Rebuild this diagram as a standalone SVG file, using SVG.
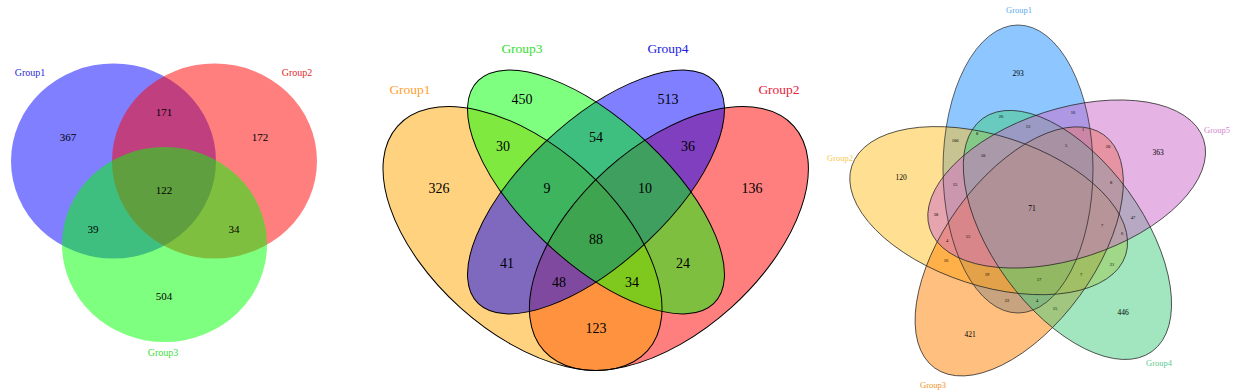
<svg xmlns="http://www.w3.org/2000/svg" width="1240" height="392" viewBox="0 0 1240 392">
<style>
text{font-family:"Liberation Serif","Times New Roman",serif;text-anchor:middle}
.n3{font-size:11px;fill:#000}
.g3{font-size:10px}
.n4{font-size:14px;fill:#000}
.g4{font-size:13.5px}
.n5{font-size:7.5px;fill:#000}
.s5{font-size:4.5px;fill:#000}
.g5{font-size:8.5px}
.f{fill-opacity:0.5;stroke:none}
.o4{fill:none;stroke:#000;stroke-width:1}
.o5{fill:none;stroke:#222;stroke-width:0.7}
</style>
<rect width="1240" height="392" fill="#fff"/>

<!-- 3-set Venn -->
<g id="venn3">
  <g id="v3-group1"><ellipse class="f" cx="113.5" cy="161" rx="102.5" ry="97.5" fill="#0000ff"/><text class="g3" x="30" y="75.5" fill="#2a2ad8">Group1</text></g>
  <g id="v3-group2"><ellipse class="f" cx="214.5" cy="161" rx="102.5" ry="97.5" fill="#ff0000"/><text class="g3" x="297" y="75.5" fill="#e02828">Group2</text></g>
  <g id="v3-group3"><ellipse class="f" cx="164.5" cy="244.5" rx="102.5" ry="97.5" fill="#00ff00"/><text class="g3" x="163" y="355.5" fill="#3cdc3c">Group3</text></g>
  <g id="v3-counts">
    <text class="n3" x="68" y="141">367</text>
    <text class="n3" x="164" y="116">171</text>
    <text class="n3" x="260" y="141">172</text>
    <text class="n3" x="164" y="194">122</text>
    <text class="n3" x="93" y="233">39</text>
    <text class="n3" x="234" y="233">34</text>
    <text class="n3" x="164" y="300">504</text>
  </g>
</g>

<!-- 4-set Venn -->
<g id="venn4">
  <g id="v4-group2"><ellipse class="f" cx="668.9" cy="238.5" rx="168" ry="93" transform="rotate(-42 668.9 238.5)" fill="#ff0000"/><text class="g4" x="779" y="94" fill="#e8203a">Group2</text></g>
  <g id="v4-group1"><ellipse class="f" cx="522.5" cy="238.5" rx="168" ry="93" transform="rotate(42 522.5 238.5)" fill="#ffa500"/><text class="g4" x="410" y="94" fill="#ffa030">Group1</text></g>
  <g id="v4-group4"><g transform="translate(596 192) scale(1 0.949)"><ellipse class="f" cx="0" cy="0" rx="166.3" ry="73.2" transform="rotate(-45)" fill="#0000ff"/></g><text class="g4" x="668" y="53" fill="#2020e0">Group4</text></g>
  <g id="v4-group3"><g transform="translate(596 192) scale(1 0.949)"><ellipse class="f" cx="0" cy="0" rx="166.3" ry="73.2" transform="rotate(45)" fill="#00ff00"/></g><text class="g4" x="522" y="53" fill="#30e030">Group3</text></g>
  <g id="v4-outlines">
    <ellipse class="o4" cx="668.9" cy="238.5" rx="168" ry="93" transform="rotate(-42 668.9 238.5)"/>
    <ellipse class="o4" cx="522.5" cy="238.5" rx="168" ry="93" transform="rotate(42 522.5 238.5)"/>
    <g transform="translate(596 192) scale(1 0.949)"><ellipse class="o4" cx="0" cy="0" rx="166.3" ry="73.2" transform="rotate(-45)"/><ellipse class="o4" cx="0" cy="0" rx="166.3" ry="73.2" transform="rotate(45)"/></g>
  </g>
  <g id="v4-counts">
    <text class="n4" x="522" y="104">450</text>
    <text class="n4" x="668" y="104">513</text>
    <text class="n4" x="503" y="151">30</text>
    <text class="n4" x="596" y="142">54</text>
    <text class="n4" x="688" y="151">36</text>
    <text class="n4" x="439" y="193">326</text>
    <text class="n4" x="547" y="193">9</text>
    <text class="n4" x="645" y="193">10</text>
    <text class="n4" x="752" y="193">136</text>
    <text class="n4" x="596" y="244">88</text>
    <text class="n4" x="507" y="268">41</text>
    <text class="n4" x="683" y="268">24</text>
    <text class="n4" x="559" y="287">48</text>
    <text class="n4" x="632" y="287">34</text>
    <text class="n4" x="596" y="333">123</text>
  </g>
</g>

<!-- 5-set Venn -->
<g id="venn5">
  <g id="v5-group1"><ellipse class="f" cx="1018" cy="169" rx="75" ry="144" fill="#1e90ff"/><text class="g5" x="1019" y="13" fill="#5aaaf0">Group1</text></g>
  <g id="v5-group2"><ellipse class="f" cx="1018" cy="169" rx="75" ry="144" transform="rotate(-72 1032 210)" fill="#ffc125"/><text class="g5" x="840" y="161" fill="#f8c850">Group2</text></g>
  <g id="v5-group3"><ellipse class="f" cx="1018" cy="169" rx="75" ry="144" transform="rotate(-144 1032 210)" fill="#ff7f00"/><text class="g5" x="933" y="388" fill="#f0901a">Group3</text></g>
  <g id="v5-group4"><ellipse class="f" cx="1018" cy="169" rx="75" ry="144" transform="rotate(144 1032 210)" fill="#43cd80"/><text class="g5" x="1159" y="366" fill="#60c890">Group4</text></g>
  <g id="v5-group5"><ellipse class="f" cx="1018" cy="169" rx="75" ry="144" transform="rotate(72 1032 210)" fill="#cd69c9"/><text class="g5" x="1217" y="133" fill="#d484d0">Group5</text></g>
  <g id="v5-outlines">
    <ellipse class="o5" cx="1018" cy="169" rx="75" ry="144"/>
    <ellipse class="o5" cx="1018" cy="169" rx="75" ry="144" transform="rotate(-72 1032 210)"/>
    <ellipse class="o5" cx="1018" cy="169" rx="75" ry="144" transform="rotate(-144 1032 210)"/>
    <ellipse class="o5" cx="1018" cy="169" rx="75" ry="144" transform="rotate(144 1032 210)"/>
    <ellipse class="o5" cx="1018" cy="169" rx="75" ry="144" transform="rotate(72 1032 210)"/>
  </g>
  <g id="v5-counts">
    <text class="n5" x="1018" y="75.6">293</text>
    <text class="n5" x="901" y="179.6">120</text>
    <text class="n5" x="1158" y="154.6">363</text>
    <text class="n5" x="970" y="336.6">421</text>
    <text class="n5" x="1123" y="314.6">446</text>
    <text class="n5" x="1032" y="210.6">71</text>
    <text class="s5" x="1001" y="117.6">26</text>
    <text class="s5" x="1028" y="127.6">13</text>
    <text class="s5" x="1073" y="113.6">16</text>
    <text class="s5" x="1083" y="130.6">1</text>
    <text class="s5" x="955" y="141.6">100</text>
    <text class="s5" x="977" y="134.6">8</text>
    <text class="s5" x="983" y="156.6">10</text>
    <text class="s5" x="1066" y="146.6">5</text>
    <text class="s5" x="1108" y="147.6">20</text>
    <text class="s5" x="955" y="185.6">15</text>
    <text class="s5" x="1111" y="183.6">8</text>
    <text class="s5" x="936" y="215.6">38</text>
    <text class="s5" x="947" y="241.6">4</text>
    <text class="s5" x="968" y="237.6">15</text>
    <text class="s5" x="1102" y="226.6">7</text>
    <text class="s5" x="1133" y="218.6">47</text>
    <text class="s5" x="1122" y="234.6">6</text>
    <text class="s5" x="946" y="261.6">16</text>
    <text class="s5" x="987" y="275.6">19</text>
    <text class="s5" x="1039" y="280.6">17</text>
    <text class="s5" x="1081" y="275.6">7</text>
    <text class="s5" x="1112" y="265.6">21</text>
    <text class="s5" x="1007" y="301.6">22</text>
    <text class="s5" x="1037" y="301.6">4</text>
    <text class="s5" x="1055" y="309.6">15</text>
  </g>
</g>
</svg>
